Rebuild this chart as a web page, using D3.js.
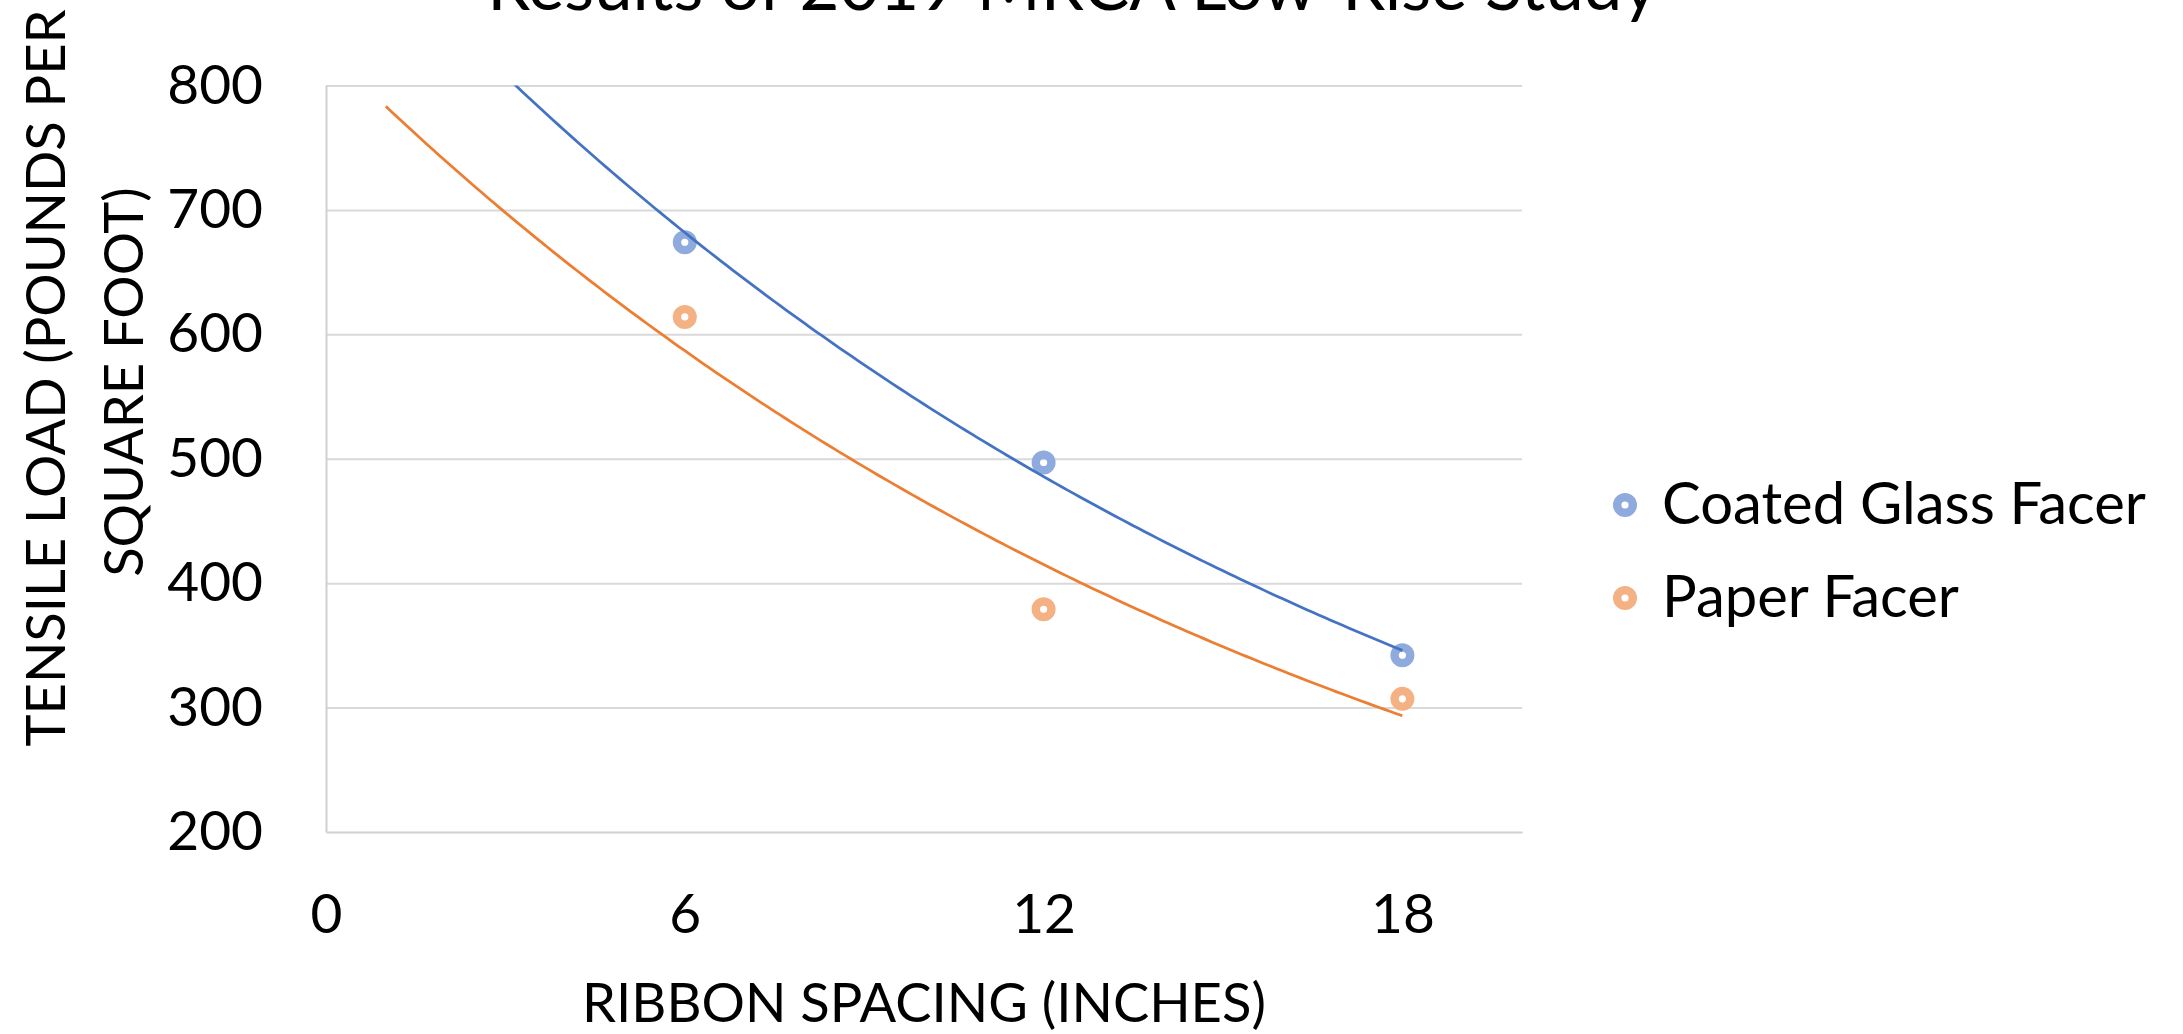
<!DOCTYPE html>
<html>
<head>
<meta charset="utf-8">
<script src="https://cdn.jsdelivr.net/npm/d3@7"></script>
<style>
  body { margin: 0; background: #fff; }
  text { font-family: Lato, "Open Sans", sans-serif; fill: #000; }
</style>
</head>
<body>
<script>
// data
var spacing = [6, 12, 18];
var coatedGlass = [674, 497, 342];
var paperFacer = [614, 379, 307];
var seriesNames = ["Coated Glass Facer", "Paper Facer"];
var xTicks = [0, 6, 12, 18];
var yTicks = [200, 300, 400, 500, 600, 700, 800];
var trendBackward = 5; // excel trendline forecast backward

var W = 2183, H = 1034;
var margin = {top: 85.5, left: 326, right: 661, bottom: 202};
var width = W - margin.left - margin.right,
    height = H - margin.top - margin.bottom;

var x = d3.scaleLinear().domain([0, 20]).range([0, width]);
var y = d3.scaleLinear().domain([200, 800]).range([height, 0]);

var colors = {line: ["#4472C4", "#ED7D31"], mark: ["#8FAADC", "#F4B183"]};

var svg = d3.select("body").append("svg")
    .attr("width", W)
    .attr("height", H);
svg.append("rect").attr("width", W).attr("height", H).attr("fill", "#fff");

var g = svg.append("g")
    .attr("transform", "translate(" + margin.left + "," + margin.top + ")");

// shrink/grow a text's font until it has the wanted width
function fitText(t, target) {
    var w = t.node().getComputedTextLength();
    var fs = parseFloat(t.attr("font-size"));
    t.attr("font-size", fs * target / w);
    return fs * target / w;
}

// gridlines
g.append("g")
    .call(d3.axisLeft(y).tickValues(yTicks.slice(1)).tickSize(-width).tickFormat(""))
    .call(function(s) { s.select(".domain").remove(); })
    .selectAll("line").attr("stroke", "#D9D9D9").attr("stroke-width", 2);

// axes
var yAxis = g.append("g")
    .call(d3.axisLeft(y).tickValues(yTicks).tickSize(0).tickPadding(63));
yAxis.select(".domain").attr("stroke", "#D0D0D0").attr("stroke-width", 2);
yAxis.selectAll("text").attr("font-size", 55).attr("font-family", "Lato");

var xAxis = g.append("g")
    .attr("transform", "translate(0," + height + ")")
    .call(d3.axisBottom(x).tickValues(xTicks).tickSize(0).tickPadding(62));
xAxis.select(".domain").attr("stroke", "#D0D0D0").attr("stroke-width", 2);
xAxis.selectAll("text").attr("font-size", 55).attr("font-family", "Lato");

// exponential trendline fitted like excel does (least squares on ln y)
function expFit(xs, ys) {
    var ly = ys.map(Math.log);
    var mx = d3.mean(xs), my = d3.mean(ly);
    var sxy = 0, sxx = 0;
    for (var i = 0; i < xs.length; i++) {
        sxy += (xs[i] - mx) * (ly[i] - my);
        sxx += (xs[i] - mx) * (xs[i] - mx);
    }
    var b = sxy / sxx;
    var a = Math.exp(my - b * mx);
    return function(v) { return a * Math.exp(b * v); };
}

svg.append("clipPath").attr("id", "plotclip")
    .append("rect").attr("x", 0).attr("y", 0).attr("width", width).attr("height", height);

var allSeries = [coatedGlass, paperFacer];

// markers
allSeries.forEach(function(vals, k) {
    g.selectAll(".pt" + k)
        .data(vals)
        .enter().append("circle")
        .attr("cx", function(d, i) { return x(spacing[i]); })
        .attr("cy", function(d) { return y(d); })
        .attr("r", 7.8)
        .attr("fill", "none")
        .attr("stroke", colors.mark[k])
        .attr("stroke-width", 8.4);
});

// trendlines
var x0 = d3.min(spacing) - trendBackward, x1 = d3.max(spacing);
var samples = d3.range(x0, x1 + 0.001, 0.1);
allSeries.forEach(function(vals, k) {
    var f = expFit(spacing, vals);
    var line = d3.line()
        .x(function(d) { return x(d); })
        .y(function(d) { return y(f(d)); });
    g.append("path")
        .datum(samples)
        .attr("clip-path", "url(#plotclip)")
        .attr("fill", "none")
        .attr("stroke", colors.line[k])
        .attr("stroke-width", 2.75)
        .attr("d", line);
});

// title (cut off at the top as in the original)
var title = svg.append("text")
    .attr("x", 1072.5).attr("y", 10)
    .attr("text-anchor", "middle")
    .attr("font-size", 76)
    .text("Results of 2019 MRCA Low-Rise Study");
fitText(title, 1171);

// axis titles
var yt1 = svg.append("text")
    .attr("transform", "translate(65,378) rotate(-90)")
    .attr("text-anchor", "middle")
    .attr("font-size", 55)
    .text("TENSILE LOAD (POUNDS PER");
var fsY = fitText(yt1, 737);
svg.append("text")
    .attr("transform", "translate(143,382) rotate(-90)")
    .attr("text-anchor", "middle")
    .attr("font-size", fsY)
    .text("SQUARE FOOT)");

var xt = svg.append("text")
    .attr("x", margin.left + width / 2).attr("y", 1022)
    .attr("text-anchor", "middle")
    .attr("font-size", 55)
    .text("RIBBON SPACING (INCHES)");
fitText(xt, 684);

// legend
var legend = svg.append("g");
var legendY = [505, 598];
var legText = seriesNames.map(function(name, k) {
    legend.append("circle")
        .attr("cx", 1625).attr("cy", legendY[k])
        .attr("r", 7.8)
        .attr("fill", "none")
        .attr("stroke", colors.mark[k])
        .attr("stroke-width", 8.4);
    return legend.append("text")
        .attr("x", 1662).attr("y", legendY[k] + 19)
        .attr("font-size", 55)
        .text(name);
});
var fsLeg = fitText(legText[0], 484);
legText[1].attr("font-size", fsLeg);
</script>
</body>
</html>
